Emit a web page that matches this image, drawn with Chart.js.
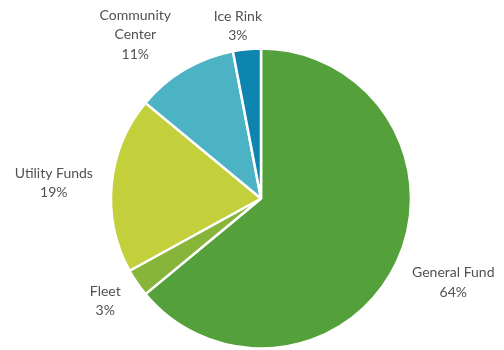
<!DOCTYPE html>
<html>
<head>
<meta charset="utf-8">
<script src="https://cdn.jsdelivr.net/npm/chart.js@4.4.0/dist/chart.umd.min.js"></script>
<style>
  html, body { margin: 0; padding: 0; background: #fff; }
  #wrap { width: 504px; height: 350px; position: relative; }
</style>
</head>
<body>
<div id="wrap"><canvas id="funds"></canvas></div>
<script>
const funds = ["General Fund", "Fleet", "Utility Funds", "Community Center", "Ice Rink"];
const shares = [64, 3, 19, 11, 3];
const fundColors = ["#54A03B", "#86B53A", "#C3D03C", "#4BB3C4", "#0D85AE"];

// label boxes sit just outside the pie, then get a small nudge
const labelGap = 18;
const labelNudge = [[3, 4], [-4, -3], [-1, 2], [-22, 6], [-5, 14]];

const outsideLabels = {
    id: "outsideLabels",
    afterDatasetsDraw(chart) {
        const ctx = chart.ctx;
        const meta = chart.getDatasetMeta(0);
        ctx.save();
        ctx.font = "14px Lato";
        ctx.fillStyle = "#515151";
        ctx.textAlign = "center";
        ctx.textBaseline = "middle";
        const lineH = 19.5;
        meta.data.forEach((arc, i) => {
            const mid = (arc.startAngle + arc.endAngle) / 2;
            const ux = Math.cos(mid), uy = Math.sin(mid);
            const text = funds[i] === "Community Center" ? ["Community", "Center"] : [funds[i]];
            text.push(shares[i] + "%");
            const w = Math.max(...text.map(t => ctx.measureText(t).width));
            const h = text.length * lineH;
            const r = arc.outerRadius + labelGap;
            const cx = arc.x + ux * r + ux * w / 2 + labelNudge[i][0];
            const cy = arc.y + uy * r + uy * h / 2 + labelNudge[i][1];
            text.forEach((t, k) => {
                ctx.fillText(t, cx, cy - h / 2 + lineH * (k + 0.5));
            });
        });
        ctx.restore();
    }
};

new Chart(document.getElementById("funds"), {
    type: "pie",
    data: {
        labels: funds,
        datasets: [{
            data: shares,
            backgroundColor: fundColors,
            borderColor: "#ffffff",
            borderWidth: 2.5
        }]
    },
    options: {
        responsive: true,
        maintainAspectRatio: false,
        animation: false,
        layout: { padding: { top: 47.25, bottom: 0.25, left: 109.75, right: 91.75 } },
        plugins: {
            legend: { display: false },
            tooltip: { enabled: false }
        }
    },
    plugins: [outsideLabels]
});
</script>
</body>
</html>
